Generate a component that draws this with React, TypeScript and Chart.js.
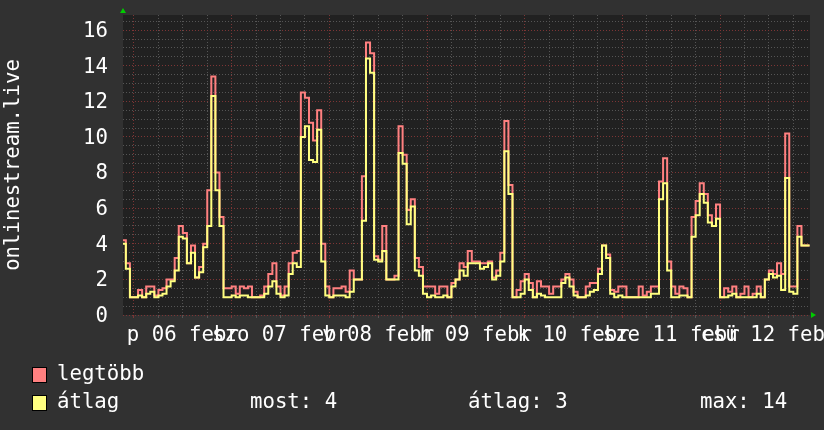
import React, { useEffect, useRef } from 'react';
import { Chart, registerables } from 'chart.js';

Chart.register(...registerables);

// hour offset (relative to 06 febr 00:00) of the first sample; one sample per hour
const START_HOUR = -3;

const avgValues = [
  5.3, 4.0, 2.6, 1.0, 1.0, 1.1, 1.0, 1.2, 1.3, 1.0,
  1.1, 1.2, 1.6, 1.9, 2.5, 4.4, 4.3, 2.9, 3.5, 2.1,
  2.4, 3.8, 5.0, 12.3, 7.0, 5.0, 1.0, 1.0, 1.1, 1.0,
  1.1, 1.1, 1.0, 1.0, 1.0, 1.0, 1.2, 1.6, 1.9, 1.2,
  1.0, 1.1, 2.3, 2.9, 2.7, 10.0, 10.6, 8.7, 8.6, 10.4,
  3.0, 1.1, 1.0, 1.1, 1.1, 1.1, 1.0, 1.3, 2.0, 2.0,
  5.3, 14.4, 13.6, 3.1, 3.0, 3.6, 2.0, 2.0, 2.0, 9.1,
  8.5, 5.1, 6.1, 2.5, 2.2, 1.2, 1.0, 1.1, 1.0, 1.0,
  1.1, 1.0, 1.6, 2.0, 2.5, 2.2, 2.9, 2.9, 2.9, 2.6,
  2.7, 2.9, 2.0, 2.2, 3.0, 9.2, 6.8, 1.0, 1.0, 1.2,
  2.0, 1.4, 1.0, 1.2, 1.1, 1.0, 1.0, 1.0, 1.0, 1.8,
  2.1, 1.6, 1.1, 1.0, 1.0, 1.1, 1.3, 1.4, 2.3, 3.9,
  3.2, 1.2, 1.0, 1.1, 1.0, 1.0, 1.0, 1.0, 1.0, 1.0,
  1.0, 1.2, 1.2, 6.5, 7.4, 2.5, 1.0, 1.0, 1.1, 1.1,
  1.0, 4.4, 5.6, 6.8, 6.3, 5.2, 5.0, 5.4, 1.0, 1.0,
  1.1, 1.2, 1.0, 1.0, 1.0, 1.0, 1.0, 1.2, 1.0, 2.0,
  2.3, 2.1, 2.2, 1.4, 7.7, 1.3, 1.2, 4.4, 3.9, 3.9,
];

const maxValues = [
  6.0, 4.2, 2.9, 1.0, 1.0, 1.4, 1.0, 1.6, 1.6, 1.1,
  1.4, 1.5, 2.0, 2.0, 3.2, 5.0, 4.6, 2.9, 3.9, 2.1,
  2.7, 4.0, 7.0, 13.4, 8.0, 5.5, 1.5, 1.5, 1.6, 1.2,
  1.6, 1.5, 1.6, 1.0, 1.0, 1.1, 1.6, 2.3, 2.9, 1.6,
  1.1, 1.6, 2.9, 3.5, 3.6, 12.5, 12.2, 10.8, 9.8, 11.5,
  4.0, 1.6, 1.0, 1.5, 1.5, 1.6, 1.3, 2.5, 2.0, 2.0,
  7.8, 15.3, 14.7, 3.3, 3.1, 5.0, 2.0, 2.0, 2.2, 10.6,
  9.0, 5.9, 6.5, 3.2, 2.7, 1.6, 1.6, 1.6, 1.2, 1.6,
  1.6, 1.0, 1.8, 2.0, 2.9, 2.7, 3.6, 3.0, 3.0, 2.9,
  2.9, 3.0, 2.1, 2.5, 3.5, 10.9, 7.3, 1.0, 1.4, 1.9,
  2.3, 1.8, 1.0, 1.9, 1.6, 1.6, 1.2, 1.6, 1.6, 2.0,
  2.3, 2.0, 1.3, 1.0, 1.0, 1.6, 1.8, 1.8, 2.6, 3.9,
  3.4, 1.4, 1.3, 1.6, 1.6, 1.0, 1.0, 1.0, 1.6, 1.1,
  1.3, 1.6, 1.6, 7.5, 8.8, 3.0, 1.6, 1.2, 1.6, 1.5,
  1.0, 5.5, 6.4, 7.4, 6.8, 5.6, 5.0, 6.2, 1.0, 1.5,
  1.3, 1.6, 1.0, 1.2, 1.6, 1.0, 1.2, 1.6, 1.0, 2.0,
  2.5, 2.3, 2.9, 2.3, 10.2, 1.6, 1.6, 5.0, 3.9, 3.9,
];

const dayLabels = ['p 06 febr', 'szo 07 febr', 'v 08 febr', 'h 09 febr', 'k 10 febr', 'sze 11 febr', 'csü 12 febr'];
const yTickLabels = ['0', '2', '4', '6', '8', '10', '12', '14', '16'];
const seriesNames = ['legtöbb', 'átlag'];
const seriesColors = ['#ff8080', '#ffff80'];
const statLabels = ['most: 4', 'átlag: 3', 'max: 14'];
const yTitle = 'onlinestream.live';

const X_MIN = -2.7;
const X_MAX = 166.1;
const Y_MAX = 16.85;

const FONT = 'DejaVu Sans Mono';
const FS = 20.7;
const BG = '#313131';
const CANVAS_BG = '#212121';
const MINOR = '#555555';
const MAJOR = '#7d3535';

export default function App() {
  const ref = useRef<HTMLCanvasElement | null>(null);

  useEffect(() => {
    const canvas = ref.current;
    if (!canvas) return;

    const bgPlugin = {
      id: 'bgPlugin',
      beforeDraw(chart: any) {
        const { ctx, chartArea: a } = chart;
        ctx.save();
        ctx.fillStyle = BG;
        ctx.fillRect(0, 0, chart.width, chart.height);
        ctx.fillStyle = CANVAS_BG;
        ctx.fillRect(a.left, a.top, a.right - a.left, a.bottom - a.top);
        ctx.restore();
      },
      afterDraw(chart: any) {
        const { ctx, chartArea: a } = chart;
        ctx.save();
        // arrows
        ctx.fillStyle = '#00cc00';
        ctx.beginPath();
        ctx.moveTo(a.left - 3, a.top - 2);
        ctx.lineTo(a.left + 3, a.top - 2);
        ctx.lineTo(a.left, a.top - 7);
        ctx.closePath();
        ctx.fill();
        ctx.beginPath();
        ctx.moveTo(a.right + 1, a.bottom - 3);
        ctx.lineTo(a.right + 1, a.bottom + 3);
        ctx.lineTo(a.right + 6, a.bottom);
        ctx.closePath();
        ctx.fill();
        // legend
        ctx.font = `${FS}px "${FONT}"`;
        ctx.textBaseline = 'middle';
        ctx.textAlign = 'left';
        const rows = [375, 403];
        const boxTop = [367, 395];
        seriesNames.forEach((name, i) => {
          ctx.fillStyle = seriesColors[i];
          ctx.fillRect(32, boxTop[i], 14, 15);
          ctx.strokeStyle = '#000000';
          ctx.lineWidth = 1;
          ctx.strokeRect(32.5, boxTop[i] + 0.5, 14, 15);
          ctx.fillStyle = '#ffffff';
          ctx.fillText(name, 57, rows[i]);
        });
        const statX = [250, 468, 700];
        statLabels.forEach((s, i) => {
          ctx.fillStyle = '#ffffff';
          ctx.fillText(s, statX[i], rows[1]);
        });
        ctx.restore();
      },
    };

    const toPoints = (vals: number[]) => vals.map((v, i) => ({ x: START_HOUR + i, y: v }));

    const chart = new Chart(canvas, {
      type: 'line',
      data: {
        datasets: [
          {
            label: seriesNames[1],
            data: toPoints(avgValues),
            borderColor: seriesColors[1],
            borderWidth: 2,
            pointRadius: 0,
            stepped: 'after',
            fill: false,
          },
          {
            label: seriesNames[0],
            data: toPoints(maxValues),
            borderColor: seriesColors[0],
            borderWidth: 2,
            pointRadius: 0,
            stepped: 'after',
            fill: false,
          },
        ],
      },
      options: {
        responsive: false,
        devicePixelRatio: 1,
        animation: false,
        events: [],
        layout: { padding: { left: 0, top: 15, right: 14, bottom: 85 } },
        plugins: { legend: { display: false }, tooltip: { enabled: false } },
        scales: {
          x: {
            type: 'linear',
            min: X_MIN,
            max: X_MAX,
            afterBuildTicks(scale: any) {
              const t: any[] = [];
              for (let h = 0; h <= X_MAX; h += 6) t.push({ value: h });
              scale.ticks = t;
            },
            afterFit(scale: any) {
              scale.height = 30;
              scale.paddingLeft = 0;
              scale.paddingRight = 0;
            },
            grid: {
              color: (c: any) => (c.tick && c.tick.value % 24 === 0 ? MAJOR : MINOR),
              tickColor: (c: any) => (c.tick && c.tick.value % 24 === 0 ? MAJOR : MINOR),
              lineWidth: 1,
              drawTicks: true,
              tickLength: 3,
            },
            border: { display: false, dash: [1, 2] },
            ticks: {
              autoSkip: false,
              maxRotation: 0,
              minRotation: 0,
              padding: 5,
              color: '#ffffff',
              font: { family: FONT, size: FS },
              callback: (v: any) => {
                const n = Number(v);
                if (n % 24 === 12) return dayLabels[(n - 12) / 24] ?? '';
                return '';
              },
            },
          },
          y: {
            type: 'linear',
            min: 0,
            max: Y_MAX,
            afterBuildTicks(scale: any) {
              const t: any[] = [];
              for (let v = 0; v <= Y_MAX; v += 0.5) t.push({ value: v });
              scale.ticks = t;
            },
            afterFit(scale: any) {
              scale.width = 123;
              scale.paddingTop = 0;
              scale.paddingBottom = 0;
            },
            grid: {
              color: (c: any) => (c.tick && c.tick.value % 2 === 0 ? MAJOR : MINOR),
              lineWidth: 1,
              drawTicks: false,
            },
            border: { display: false, dash: [1, 2] },
            title: {
              display: true,
              text: yTitle,
              color: '#ffffff',
              font: { family: FONT, size: FS, lineHeight: 1.2 },
              padding: { top: 1, bottom: 0 },
            },
            ticks: {
              autoSkip: false,
              padding: 15,
              labelOffset: 1.5,
              color: '#ffffff',
              font: { family: FONT, size: FS },
              callback: (v: any) => {
                const n = Number(v);
                if (n % 2 === 0) return yTickLabels[n / 2] ?? '';
                return '';
              },
            },
          },
        },
      },
      plugins: [bgPlugin],
    } as any);

    return () => chart.destroy();
  }, []);

  return (
    <div style={{ position: 'absolute', left: 0, top: 0, width: 824, height: 430 }}>
      <canvas ref={ref} width={824} height={430} style={{ display: 'block' }} />
    </div>
  );
}
